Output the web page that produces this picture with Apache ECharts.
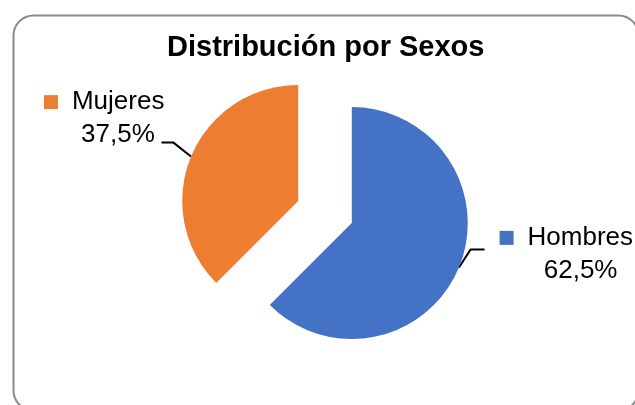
<!DOCTYPE html>
<html>
<head>
<meta charset="utf-8">
<script src="https://cdn.jsdelivr.net/npm/echarts@6/dist/echarts.min.js"></script>
<style>
  html, body { margin: 0; padding: 0; background: #fff; }
  #main { width: 635px; height: 405px; }
</style>
</head>
<body>
<div id="main"></div>
<script>
// valores
var categorias = ['Hombres', 'Mujeres']
var valores = [62.5, 37.5]
var colores = ['#4472C4', '#ED7D31']
var titulo = 'Distribución por Sexos'

var fuente = "'Liberation Sans', Arial, sans-serif"
var tamLetra = 26

// ajuste de etiquetas al estilo Excel (desplazamiento del texto y del final de la linea)
var despTexto = [[-3, -20], [17, -31]]
var despLinea = [[-4, -25], [0, -7]]
var tramo2 = [14, 12]

function pct (p) {
  return p.percent.toFixed(1).replace('.', ',') + '%'
}

// ancho del nombre, para centrar el porcentaje debajo
var ctx = document.createElement('canvas').getContext('2d')
ctx.font = tamLetra + 'px ' + fuente

var datos = categorias.map(function (c, i) {
  var ancho = Math.ceil(ctx.measureText(c).width)
  return {
    name: c,
    value: valores[i],
    selected: true,
    itemStyle: { color: colores[i] },
    label: {
      rich: {
        sq: { width: 14, height: 14, backgroundColor: colores[i] },
        p: { width: ancho, align: 'center', fontSize: tamLetra, fontFamily: fuente, color: '#000' }
      }
    }
  }
})

var chart = echarts.init(document.getElementById('main'))
chart.setOption({
  animation: false,
  title: {
    text: titulo,
    left: 162,
    top: 28,
    textStyle: { fontFamily: fuente, fontSize: 29, fontWeight: 'bold', color: '#000' }
  },
  graphic: [{
    type: 'rect',
    left: 11,
    top: 13,
    shape: { width: 625, height: 395, r: 20 },
    style: { fill: 'none', stroke: '#8a8a8a', lineWidth: 2 },
    silent: true
  }],
  series: [{
    type: 'pie',
    center: [325, 212],
    radius: 116,
    startAngle: 90,
    clockwise: true,
    selectedMode: 'multiple',
    selectedOffset: 29,
    emphasis: { disabled: true },
    itemStyle: { borderWidth: 0 },
    label: {
      show: true,
      position: 'outside',
      color: '#000',
      fontFamily: fuente,
      fontSize: tamLetra,
      lineHeight: 33,
      distanceToLabelLine: 14,
      formatter: function (p) {
        return '{sq|}{gap|}{n|' + p.name + '}\n{sp|}{p|' + pct(p) + '}'
      },
      rich: {
        gap: { width: 14 },
        sp: { width: 28 },
        n: { fontSize: tamLetra, fontFamily: fuente, color: '#000' }
      }
    },
    labelLine: {
      show: true,
      length: 18,
      length2: 13,
      lineStyle: { color: '#000', width: 2 }
    },
    labelLayout: function (params) {
      var i = params.dataIndex
      var out = { dx: despTexto[i][0], dy: despTexto[i][1] }
      var pts = params.labelLinePoints
      if (pts) {
        var fin = [pts[2][0] + despLinea[i][0], pts[2][1] + despLinea[i][1]]
        var lado = pts[2][0] > pts[0][0] ? -1 : 1
        out.labelLinePoints = [pts[0], [fin[0] + lado * tramo2[i], fin[1]], fin]
      }
      return out
    },
    data: datos
  }]
})
</script>
</body>
</html>
